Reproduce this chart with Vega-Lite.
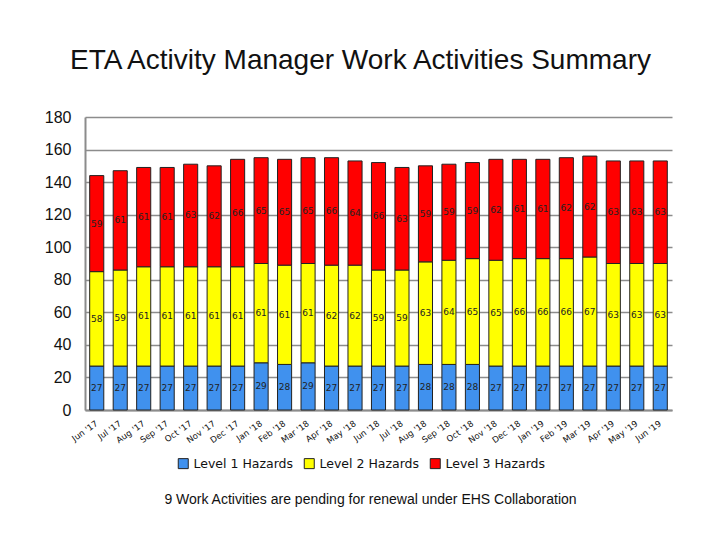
{
  "$schema": "https://vega.github.io/schema/vega-lite/v6.json",
  "autosize": {"type": "none"},
  "padding": {"left": 85, "top": 117, "right": 48, "bottom": 130},
  "width": 587,
  "height": 293,
  "background": "white",
  "title": {
    "text": "ETA Activity Manager Work Activities Summary",
    "anchor": "middle",
    "dx": -18,
    "offset": 12,
    "baseline": "alphabetic",
    "font": "Liberation Sans",
    "fontSize": 28,
    "fontWeight": "normal",
    "color": "#111"
  },
  "datasets": {
    "hazards": [
      {"month": "Jun '17", "level": "Level 1 Hazards", "count": 27},
      {"month": "Jul '17", "level": "Level 1 Hazards", "count": 27},
      {"month": "Aug '17", "level": "Level 1 Hazards", "count": 27},
      {"month": "Sep '17", "level": "Level 1 Hazards", "count": 27},
      {"month": "Oct '17", "level": "Level 1 Hazards", "count": 27},
      {"month": "Nov '17", "level": "Level 1 Hazards", "count": 27},
      {"month": "Dec '17", "level": "Level 1 Hazards", "count": 27},
      {"month": "Jan '18", "level": "Level 1 Hazards", "count": 29},
      {"month": "Feb '18", "level": "Level 1 Hazards", "count": 28},
      {"month": "Mar '18", "level": "Level 1 Hazards", "count": 29},
      {"month": "Apr '18", "level": "Level 1 Hazards", "count": 27},
      {"month": "May '18", "level": "Level 1 Hazards", "count": 27},
      {"month": "Jun '18", "level": "Level 1 Hazards", "count": 27},
      {"month": "Jul '18", "level": "Level 1 Hazards", "count": 27},
      {"month": "Aug '18", "level": "Level 1 Hazards", "count": 28},
      {"month": "Sep '18", "level": "Level 1 Hazards", "count": 28},
      {"month": "Oct '18", "level": "Level 1 Hazards", "count": 28},
      {"month": "Nov '18", "level": "Level 1 Hazards", "count": 27},
      {"month": "Dec '18", "level": "Level 1 Hazards", "count": 27},
      {"month": "Jan '19", "level": "Level 1 Hazards", "count": 27},
      {"month": "Feb '19", "level": "Level 1 Hazards", "count": 27},
      {"month": "Mar '19", "level": "Level 1 Hazards", "count": 27},
      {"month": "Apr '19", "level": "Level 1 Hazards", "count": 27},
      {"month": "May '19", "level": "Level 1 Hazards", "count": 27},
      {"month": "Jun '19", "level": "Level 1 Hazards", "count": 27},
      {"month": "Jun '17", "level": "Level 2 Hazards", "count": 58},
      {"month": "Jul '17", "level": "Level 2 Hazards", "count": 59},
      {"month": "Aug '17", "level": "Level 2 Hazards", "count": 61},
      {"month": "Sep '17", "level": "Level 2 Hazards", "count": 61},
      {"month": "Oct '17", "level": "Level 2 Hazards", "count": 61},
      {"month": "Nov '17", "level": "Level 2 Hazards", "count": 61},
      {"month": "Dec '17", "level": "Level 2 Hazards", "count": 61},
      {"month": "Jan '18", "level": "Level 2 Hazards", "count": 61},
      {"month": "Feb '18", "level": "Level 2 Hazards", "count": 61},
      {"month": "Mar '18", "level": "Level 2 Hazards", "count": 61},
      {"month": "Apr '18", "level": "Level 2 Hazards", "count": 62},
      {"month": "May '18", "level": "Level 2 Hazards", "count": 62},
      {"month": "Jun '18", "level": "Level 2 Hazards", "count": 59},
      {"month": "Jul '18", "level": "Level 2 Hazards", "count": 59},
      {"month": "Aug '18", "level": "Level 2 Hazards", "count": 63},
      {"month": "Sep '18", "level": "Level 2 Hazards", "count": 64},
      {"month": "Oct '18", "level": "Level 2 Hazards", "count": 65},
      {"month": "Nov '18", "level": "Level 2 Hazards", "count": 65},
      {"month": "Dec '18", "level": "Level 2 Hazards", "count": 66},
      {"month": "Jan '19", "level": "Level 2 Hazards", "count": 66},
      {"month": "Feb '19", "level": "Level 2 Hazards", "count": 66},
      {"month": "Mar '19", "level": "Level 2 Hazards", "count": 67},
      {"month": "Apr '19", "level": "Level 2 Hazards", "count": 63},
      {"month": "May '19", "level": "Level 2 Hazards", "count": 63},
      {"month": "Jun '19", "level": "Level 2 Hazards", "count": 63},
      {"month": "Jun '17", "level": "Level 3 Hazards", "count": 59},
      {"month": "Jul '17", "level": "Level 3 Hazards", "count": 61},
      {"month": "Aug '17", "level": "Level 3 Hazards", "count": 61},
      {"month": "Sep '17", "level": "Level 3 Hazards", "count": 61},
      {"month": "Oct '17", "level": "Level 3 Hazards", "count": 63},
      {"month": "Nov '17", "level": "Level 3 Hazards", "count": 62},
      {"month": "Dec '17", "level": "Level 3 Hazards", "count": 66},
      {"month": "Jan '18", "level": "Level 3 Hazards", "count": 65},
      {"month": "Feb '18", "level": "Level 3 Hazards", "count": 65},
      {"month": "Mar '18", "level": "Level 3 Hazards", "count": 65},
      {"month": "Apr '18", "level": "Level 3 Hazards", "count": 66},
      {"month": "May '18", "level": "Level 3 Hazards", "count": 64},
      {"month": "Jun '18", "level": "Level 3 Hazards", "count": 66},
      {"month": "Jul '18", "level": "Level 3 Hazards", "count": 63},
      {"month": "Aug '18", "level": "Level 3 Hazards", "count": 59},
      {"month": "Sep '18", "level": "Level 3 Hazards", "count": 59},
      {"month": "Oct '18", "level": "Level 3 Hazards", "count": 59},
      {"month": "Nov '18", "level": "Level 3 Hazards", "count": 62},
      {"month": "Dec '18", "level": "Level 3 Hazards", "count": 61},
      {"month": "Jan '19", "level": "Level 3 Hazards", "count": 61},
      {"month": "Feb '19", "level": "Level 3 Hazards", "count": 62},
      {"month": "Mar '19", "level": "Level 3 Hazards", "count": 62},
      {"month": "Apr '19", "level": "Level 3 Hazards", "count": 63},
      {"month": "May '19", "level": "Level 3 Hazards", "count": 63},
      {"month": "Jun '19", "level": "Level 3 Hazards", "count": 63}
    ]
  },
  "data": {"name": "hazards"},
  "transform": [
    {
      "stack": "count",
      "groupby": ["month"],
      "sort": [{"field": "level", "order": "ascending"}],
      "as": ["lo", "hi"]
    },
    {"calculate": "(datum.lo + datum.hi) / 2", "as": "mid"}
  ],
  "encoding": {
    "x": {
      "field": "month",
      "type": "nominal",
      "sort": null,
      "scale": {"paddingInner": 0.4, "paddingOuter": 0.2},
      "axis": {
        "title": "9 Work Activities are pending for renewal under EHS Collaboration",
        "titleFont": "Liberation Sans",
        "titleFontSize": 14,
        "titleFontWeight": "normal",
        "titleColor": "#111",
        "titleX": 285,
        "titleY": 89,
        "titleAlign": "center",
        "titleBaseline": "middle",
        "labelAngle": -35,
        "labelAlign": "right",
        "labelBaseline": "middle",
        "labelFont": "DejaVu Sans",
        "labelFontSize": 8.5,
        "labelColor": "#111",
        "labelPadding": 12,
        "ticks": false,
        "domainColor": "#8c8c8c",
        "domainWidth": 2
      }
    }
  },
  "layer": [
    {
      "mark": {"type": "bar", "stroke": "#222", "strokeWidth": 1},
      "encoding": {
        "y": {
          "field": "lo",
          "type": "quantitative",
          "scale": {"domain": [0, 180]},
          "axis": {
            "title": null,
            "values": [0, 20, 40, 60, 80, 100, 120, 140, 160, 180],
            "labelFont": "Liberation Sans",
            "labelFontSize": 16,
            "labelColor": "#111",
            "labelPadding": 14,
            "ticks": false,
            "grid": true,
            "gridColor": "#8c8c8c",
            "gridWidth": 1.5,
            "domainColor": "#8c8c8c",
            "domainWidth": 2
          }
        },
        "y2": {"field": "hi"},
        "color": {
          "field": "level",
          "type": "nominal",
          "scale": {
            "domain": ["Level 1 Hazards", "Level 2 Hazards", "Level 3 Hazards"],
            "range": ["#4091ee", "#ffff00", "#ff0000"]
          },
          "legend": {
            "title": null,
            "orient": "none",
            "direction": "horizontal",
            "legendX": 92,
            "legendY": 340,
            "symbolType": "square",
            "symbolSize": 100,
            "symbolStrokeColor": "#222",
            "symbolStrokeWidth": 1,
            "labelFont": "DejaVu Sans",
            "labelFontSize": 12.5,
            "labelColor": "#111",
            "labelOffset": 4,
            "columnPadding": 8
          }
        }
      }
    },
    {
      "mark": {"type": "text", "font": "DejaVu Sans", "fontSize": 9, "color": "#222", "baseline": "middle"},
      "encoding": {
        "y": {
          "field": "mid",
          "type": "quantitative",
          "scale": {"domain": [0, 180]},
          "axis": {
            "title": null,
            "values": [0, 20, 40, 60, 80, 100, 120, 140, 160, 180],
            "labelFont": "Liberation Sans",
            "labelFontSize": 16,
            "labelColor": "#111",
            "labelPadding": 14,
            "ticks": false,
            "grid": true,
            "gridColor": "#8c8c8c",
            "gridWidth": 1.5,
            "domainColor": "#8c8c8c",
            "domainWidth": 2
          }
        },
        "text": {"field": "count", "type": "quantitative"}
      }
    }
  ],
  "config": {
    "view": {"stroke": null}
  }
}
